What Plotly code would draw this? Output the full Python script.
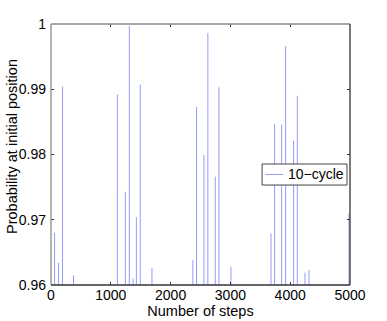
import plotly.graph_objects as go

# steps at which the walker returned, and the probability read at each one
steps = [60, 127, 193, 377, 1110, 1243, 1310, 1372, 1428, 1493, 1688,
         2372, 2434, 2557, 2623, 2747, 2808, 3009,
         3679, 3739, 3857, 3923, 4057, 4119, 4247, 4314, 4983]
prob = [0.9680, 0.9634, 0.9904, 0.9615, 0.9892, 0.9743, 0.9997, 0.9610, 0.9704, 0.9907, 0.9626,
        0.9638, 0.9873, 0.9799, 0.9986, 0.9766, 0.9903, 0.9628,
        0.9679, 0.9847, 0.9846, 0.9966, 0.9821, 0.9890, 0.9619, 0.9623, 0.9710]
base = 0.96
series_name = "10\u2212cycle"

y_ticks = [0.96, 0.97, 0.98, 0.99, 1.0]
y_labels = ["0.96", "0.97", "0.98", "0.99", "1"]
x_ticks = [0, 1000, 2000, 3000, 4000, 5000]

line_color = "#939cfb"

xs, ys = [], []
for s, p in zip(steps, prob):
    xs += [s, s, None]
    ys += [base, p, None]

fig = go.Figure()
fig.add_trace(go.Scatter(
    x=xs, y=ys, mode="lines", name=series_name, showlegend=False,
    line=dict(color=line_color, width=1),
))

font = dict(family="Liberation Sans, Arial, sans-serif", size=14, color="black")

fig.update_layout(
    width=387, height=321,
    margin=dict(l=51, r=37, t=24, b=36, autoexpand=False),
    paper_bgcolor="white", plot_bgcolor="white",
    font=font,
)
fig.update_xaxes(
    range=[0, 5000], tickvals=x_ticks, showgrid=False, zeroline=False, automargin=False,
    ticks="inside", ticklen=3, tickcolor="#333", showline=False, mirror="ticks",
    title=dict(text="Number of steps", standoff=0, font=dict(size=14.5)),
)
fig.update_yaxes(
    range=[0.96, 1.0], tickvals=y_ticks, ticktext=y_labels, showgrid=False, zeroline=False,
    automargin=False, ticklabelstandoff=4,
    ticks="inside", ticklen=3, tickcolor="#333", showline=False, mirror="ticks",
)
# y title as a rotated annotation so it clears the tick labels
fig.add_annotation(text="Probability at initial position", xref="paper", yref="paper",
                   x=-0.1304, y=0.529, xanchor="center", yanchor="middle", textangle=-90,
                   showarrow=False, font=dict(size=14.5))

# box round the axes: left and top lighter, bottom and right darker
frame = [(0, 0, 0, 1, "#8a8a8a"), (0, 1, 1, 1, "#8a8a8a"),
         (0, 0, 1, 0, "#333"), (1, 0, 1, 1, "#333")]
for x0, y0, x1, y1, c in frame:
    fig.add_shape(type="line", xref="paper", yref="paper", x0=x0, y0=y0, x1=x1, y1=y1,
                  line=dict(color=c, width=1.3))

# compact MATLAB-style legend box
fig.add_shape(type="rect", xref="paper", yref="paper", x0=0.706, x1=0.99, y0=0.383, y1=0.4636,
              fillcolor="white", line=dict(color="#444", width=1))
fig.add_shape(type="line", xref="paper", yref="paper", x0=0.716, x1=0.776, y0=0.4234, y1=0.4234,
              line=dict(color=line_color, width=1))
fig.add_annotation(text=series_name, xref="paper", yref="paper", x=0.99, y=0.4234,
                   xanchor="right", yanchor="middle", xshift=-1, showarrow=False,
                   font=dict(size=14))

# drop the page's default 8px body margin so the figure fills the window
fig.write_html("out.html", config={"displayModeBar": False},
               post_script="document.body.style.margin='0';")
